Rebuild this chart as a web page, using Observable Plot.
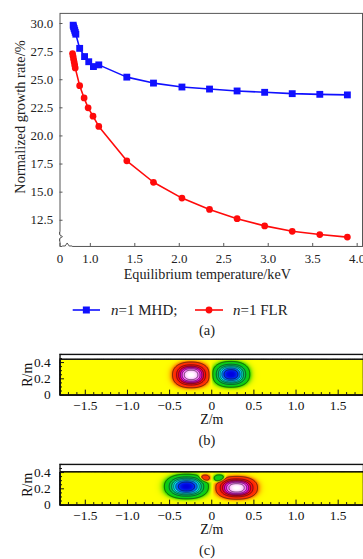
<!DOCTYPE html>
<html><head><meta charset="utf-8">
<script src="https://cdn.jsdelivr.net/npm/d3@7"></script>
<script src="https://cdn.jsdelivr.net/npm/@observablehq/plot@0.6"></script>
<style>
html,body{margin:0;padding:0;background:#fff;overflow:hidden;}
#wrap{position:relative;width:363px;height:559px;overflow:hidden;font-family:"Liberation Serif","Times New Roman",serif;color:#222;}
#wrap svg{position:absolute;left:0;}
.cap{position:absolute;font-size:14.5px;line-height:16px;transform:translateX(-50%);white-space:nowrap;}
</style></head><body><div id="wrap"></div>
<script>
// ---------- Panel (a) data ----------
const mhdTemp = [0.807, 0.812, 0.818, 0.824, 0.830, 0.837, 0.88, 0.935, 0.982, 1.035, 1.095, 1.41, 1.71, 2.03, 2.34, 2.65, 2.96, 3.27, 3.58, 3.89];
const mhdRate = [29.85, 29.7, 29.55, 29.4, 29.22, 29.05, 27.79, 27.06, 26.6, 26.17, 26.32, 25.23, 24.7, 24.35, 24.17, 24.0, 23.88, 23.76, 23.7, 23.65];
const flrTemp = [0.80, 0.806, 0.812, 0.818, 0.824, 0.83, 0.88, 0.93, 0.975, 1.03, 1.095, 1.41, 1.71, 2.03, 2.34, 2.65, 2.96, 3.27, 3.58, 3.89];
const flrRate = [27.33, 27.08, 26.82, 26.57, 26.31, 26.05, 24.47, 23.38, 22.5, 21.76, 20.85, 17.79, 15.88, 14.47, 13.46, 12.64, 12.0, 11.52, 11.23, 11.0];
const xTickValues = [1.0, 1.5, 2.0, 2.5, 3.0, 3.5, 4.0];
const yTickValues = [12.5, 15.0, 17.5, 20.0, 22.5, 25.0, 27.5, 30.0];
const seriesNames = ["n=1 MHD;", "n=1 FLR"];

// ---------- Panels (b),(c): blob parameters ----------
const bBlobZ = [-0.245, 0.228];
const bBlobR = [0.248, 0.255];
const bBlobAmp = [1, -1];
const bBlobWZ = [0.158, 0.16];
const bBlobWR = [0.114, 0.114];

const cBlobZ = [-0.30, 0.295, -0.085, 0.09];
const cBlobR = [0.228, 0.212, 0.33, 0.33];
const cBlobAmp = [-1, 1, 0.21, -0.21];
const cBlobWZ = [0.188, 0.178, 0.062, 0.062];
const cBlobWR = [0.109, 0.101, 0.043, 0.043];

const zMajorTicks = [-1.5, -1.0, -0.5, 0, 0.5, 1.0, 1.5];
const rMajorTicks = [0, 0.2, 0.4];
const contourLevels = [-0.86, -0.72, -0.58, -0.44, -0.28, -0.08, 0.08, 0.28, 0.44, 0.58, 0.72, 0.86];
const colorValues = [-1, -0.82, -0.62, -0.4, -0.08, 0, 0.08, 0.4, 0.62, 0.84, 1];
const colorStops = ["#0000e0", "#0050ff", "#00f0ff", "#00c060", "#10d000", "#ffff00", "#ff4000", "#ff0010", "#ee00e0", "#ff90ff", "#ffffff"];

const FONT = '"Liberation Serif","Times New Roman",serif';
const BLUE = "#1010ff", RED = "#ff0a0a";
const wrap = document.getElementById("wrap");

// ---------- (a) ----------
const xMin = 0.659, xMax = 4.06, yMin = 10.17, yMax = 30.9;
const mhd = mhdTemp.map((t, i) => ({t, r: mhdRate[i]}));
const flr = flrTemp.map((t, i) => ({t, r: flrRate[i]}));
const figA = Plot.plot({
  width: 366, height: 290,
  marginLeft: 60, marginRight: 1, marginTop: 13, marginBottom: 42,
  style: {fontFamily: FONT, fontSize: "13px", color: "#222", background: "transparent", overflow: "visible"},
  x: {domain: [xMin, xMax]},
  y: {domain: [yMin, yMax]},
  marks: [
    Plot.frame({stroke: "#555", strokeWidth: 1}),
    Plot.axisX([xMin, ...xTickValues], {tickSize: -3, tickPadding: 10.5, stroke: "#555",
      tickFormat: d => d === xMin ? "0" : d.toFixed(1), label: null}),
    Plot.axisY(yTickValues, {tickSize: -3, tickPadding: 10, stroke: "#555",
      tickFormat: d => d.toFixed(1), label: null}),
    Plot.text(["Equilibrium temperature/keV"], {frameAnchor: "bottom", dx: -4, dy: 28.5, text: d => d, fontSize: 14.3, lineAnchor: "middle", textAnchor: "middle"}),
    Plot.text(["Normalized growth rate/%"], {frameAnchor: "left", dx: -40, dy: -13, rotate: -90, text: d => d, fontSize: 14.5, lineAnchor: "middle", textAnchor: "middle"}),
    Plot.line(mhd, {x: "t", y: "r", stroke: BLUE, strokeWidth: 1.6}),
    Plot.dot(mhd, {x: "t", y: "r", symbol: "square", r: 3.9, fill: BLUE}),
    Plot.line(flr, {x: "t", y: "r", stroke: RED, strokeWidth: 1.6}),
    Plot.dot(flr, {x: "t", y: "r", symbol: "circle", r: 3.4, fill: RED})
  ]
});
figA.style.top = "0px";
wrap.appendChild(figA);

// axis-break marks, positioned with the plot's own scales
{
  const sx = figA.scale("x"), sy = figA.scale("y");
  const svg = d3.select(figA);
  const bx = sx.apply(0.745), by = sy.apply(yMin);
  svg.append("path").attr("d", `M${bx-5},${by} L${bx+5},${by}`).attr("stroke", "#fff").attr("stroke-width", 2);
  svg.append("path").attr("d", `M${bx-5},${by} L${bx-2},${by} L${bx},${by-3} L${bx+2},${by} L${bx+5},${by}`)
    .attr("fill", "none").attr("stroke", "#555").attr("stroke-width", 1);
  const lx = sx.apply(xMin), ly = sy.apply(11.0);
  svg.append("path").attr("d", `M${lx},${ly-5} L${lx},${ly+5}`).attr("stroke", "#fff").attr("stroke-width", 2);
  svg.append("path").attr("d", `M${lx},${ly-5} L${lx},${ly-2} L${lx+3},${ly} L${lx},${ly+2} L${lx},${ly+5}`)
    .attr("fill", "none").attr("stroke", "#555").attr("stroke-width", 1);
}

// legend
{
  const lg = d3.create("svg").attr("width", 363).attr("height", 24).style("top", "298px")
    .style("font-family", FONT).style("font-size", "15px");
  const items = [
    {x0: 72.7, x1: 100, tx: 111, color: BLUE, sym: "square", name: seriesNames[0]},
    {x0: 195, x1: 223, tx: 233, color: RED, sym: "circle", name: seriesNames[1]}
  ];
  for (const it of items) {
    const cy = 12, cx = (it.x0 + it.x1) / 2;
    lg.append("line").attr("x1", it.x0).attr("x2", it.x1).attr("y1", cy).attr("y2", cy).attr("stroke", it.color).attr("stroke-width", 1.6);
    if (it.sym === "square") lg.append("rect").attr("x", cx - 3.5).attr("y", cy - 3.5).attr("width", 7).attr("height", 7).attr("fill", it.color);
    else lg.append("circle").attr("cx", cx).attr("cy", cy).attr("r", 3.4).attr("fill", it.color);
    const t = lg.append("text").attr("x", it.tx).attr("y", cy + 5).attr("fill", "#222");
    const m = it.name.match(/^(n)(.*)$/);
    t.append("tspan").attr("font-style", "italic").text(m[1]);
    t.append("tspan").text(m[2]);
  }
  wrap.appendChild(lg.node());
}

// ---------- contour panels ----------
function field(Z, R, A, WZ, WR) {
  return (z, r) => {
    let s = 0;
    for (let i = 0; i < Z.length; i++) {
      const dz = Math.abs(z - Z[i]) / WZ[i], dr = Math.abs(r - R[i]) / WR[i];
      const q = Math.pow(Math.pow(dz, 2.3) + Math.pow(dr, 2.3), 2 / 2.3);
      s += A[i] * Math.exp(-Math.pow(q, 1.4));
    }
    return s;
  };
}
function panel(f, rTop, top) {
  const zFmt = d => d === 0 ? "0" : (d < 0 ? "\u2212" : "") + Math.abs(d).toFixed(1);
  const zMinor = d3.range(-17, 18).map(i => i / 10).filter(v => Math.abs(v * 2 - Math.round(v * 2)) > 1e-6);
  const rMinor = d3.range(0, 11).map(i => i / 20).filter(v => !rMajorTicks.some(m => Math.abs(m - v) < 1e-6));
  const fig = Plot.plot({
    width: 366, height: 90,
    marginLeft: 60, marginRight: 0, marginTop: 9, marginBottom: 40,
    style: {fontFamily: FONT, fontSize: "13.5px", color: "#111", background: "transparent"},
    x: {domain: [-1.8, 1.8]},
    y: {domain: [0, 0.5]},
    color: {type: "linear", domain: colorValues, range: colorStops, clamp: true},
    marks: [
      Plot.raster({fill: f, x1: -1.8, x2: 1.8, y1: 0, y2: rTop, pixelSize: 1}),
      Plot.contour({value: f, x1: -1.8, x2: 1.8, y1: 0, y2: rTop, pixelSize: 0.5,
        thresholds: contourLevels, fill: "none", stroke: "#111", strokeWidth: 0.6}),
      Plot.frame({stroke: "#111", strokeWidth: 1.4}),
      Plot.axisX(zMinor, {tickSize: -2.5, tickFormat: () => "", label: null, stroke: "#111"}),
      Plot.axisX(zMajorTicks, {tickSize: -5, tickPadding: 10, tickFormat: zFmt, label: null, stroke: "#111"}),
      Plot.axisY(rMinor, {tickSize: -2.5, tickFormat: () => "", label: null, stroke: "#111"}),
      Plot.axisY(rMajorTicks, {tickSize: -4.5, tickPadding: 14, tickFormat: d => d === 0 ? "0" : d.toFixed(1), label: null, stroke: "#111"}),
      Plot.text(["Z/m"], {frameAnchor: "bottom", dy: 25, text: d => d, fontSize: 14, lineAnchor: "middle", textAnchor: "middle"}),
      Plot.text(["R/m"], {frameAnchor: "left", dx: -33, rotate: -90, text: d => d, fontSize: 14, lineAnchor: "middle", textAnchor: "middle"})
    ]
  });
  fig.style.top = top + "px";
  wrap.appendChild(fig);
}
panel(field(bBlobZ, bBlobR, bBlobAmp, bBlobWZ, bBlobWR), 0.44, 344.5);
panel(field(cBlobZ, cBlobR, cBlobAmp, cBlobWZ, cBlobWR), 0.41, 455);

// captions
for (const [txt, x, y] of [["(a)", 207, 330], ["(b)", 207, 440], ["(c)", 207, 550]]) {
  const d = document.createElement("div");
  d.className = "cap"; d.textContent = txt;
  d.style.left = x + "px"; d.style.top = (y - 8) + "px";
  wrap.appendChild(d);
}
</script></body></html>
